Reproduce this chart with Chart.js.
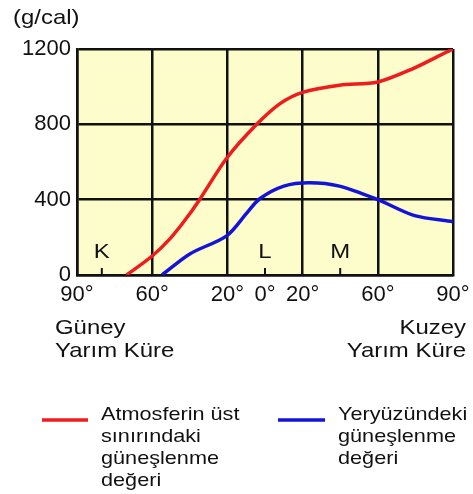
<!DOCTYPE html>
<html>
<head>
<meta charset="utf-8">
<script src="https://cdn.jsdelivr.net/npm/chart.js@4"></script>
<style>
  html, body { margin: 0; padding: 0; background: #fff; }
  #wrap { width: 473px; height: 494px; position: relative; }
</style>
</head>
<body>
<div id="wrap"><canvas id="myChart" width="473" height="494"></canvas></div>
<script>
// x positions are in grid cells (0 = 90° S, 5 = 90° N)
const tickPos = [0, 1, 2, 2.5, 3, 4, 5];
const tickLabels = ['90°', '60°', '20°', '0°', '20°', '60°', '90°'];
const markPos = [0.33, 2.5, 3.5];
const markLabels = ['K', 'L', 'M'];

const redX = [0.66, 1.0, 1.235, 1.43, 1.63, 1.99, 2.39, 2.7, 3.0, 3.49, 4.0, 4.49, 4.78, 5.0];
const redY = [0, 101, 192, 288, 400, 620, 800, 910, 970, 1008, 1025, 1100, 1157, 1200];
const blueX = [1.13, 1.5, 1.99, 2.26, 2.43, 2.75, 3.09, 3.49, 4.0, 4.49, 5.0];
const blueY = [0, 112, 208, 330, 405, 472, 490, 472, 400, 315, 283];

const FONT = "'Liberation Sans', Arial, sans-serif";

// text in the picture is a bit wider than Arial, so stretch it
function txt(ctx, t, x, y, size, align) {
  const sx = 1.14;
  ctx.save();
  ctx.font = size + 'px ' + FONT;
  ctx.textAlign = align;
  ctx.textBaseline = 'middle';
  ctx.translate(x, y);
  ctx.scale(sx, 1);
  ctx.fillText(t, 0, 0);
  ctx.restore();
}

const extras = {
  id: 'extras',
  beforeDraw(chart) {
    const {ctx, chartArea: a} = chart;
    ctx.save();
    ctx.fillStyle = '#fdfccb';
    ctx.fillRect(a.left, a.top, a.right - a.left, a.bottom - a.top);
    ctx.restore();
  },
  afterDraw(chart) {
    const {ctx, chartArea: a} = chart;
    const xs = chart.scales.x;
    ctx.save();
    ctx.fillStyle = '#111';
    ctx.strokeStyle = '#111';
    // K L M marks
    ctx.lineWidth = 2;
    markPos.forEach((p, i) => {
      const px = xs.getPixelForValue(p);
      ctx.beginPath();
      ctx.moveTo(px, a.bottom);
      ctx.lineTo(px, a.bottom - 7);
      ctx.stroke();
      txt(ctx, markLabels[i], px, a.bottom - 23, 21, 'center');
    });
    txt(ctx, '(g/cal)', 13, 18, 21, 'left');
    txt(ctx, 'Güney', 55, 328, 21, 'left');
    txt(ctx, 'Yarım Küre', 55, 351, 21, 'left');
    txt(ctx, 'Kuzey', 466, 328, 21, 'right');
    txt(ctx, 'Yarım Küre', 466, 351, 21, 'right');
    // legend
    ctx.lineWidth = 3.5;
    ctx.strokeStyle = '#ee1c1c';
    ctx.beginPath(); ctx.moveTo(42, 420); ctx.lineTo(88, 420); ctx.stroke();
    ctx.strokeStyle = '#1414d8';
    ctx.beginPath(); ctx.moveTo(278, 420); ctx.lineTo(325, 420); ctx.stroke();
    ['Atmosferin üst', 'sınırındaki', 'güneşlenme', 'değeri'].forEach((t, i) => {
      txt(ctx, t, 101, 415 + i * 22, 19, 'left');
    });
    ['Yeryüzündeki', 'güneşlenme', 'değeri'].forEach((t, i) => {
      txt(ctx, t, 338, 415 + i * 22, 19, 'left');
    });
    ctx.restore();
  }
};

window.onload = function() {
  const ctx = document.getElementById('myChart').getContext('2d');
  new Chart(ctx, {
    type: 'line',
    data: {
      datasets: [{
        label: 'Atmosferin üst sınırındaki güneşlenme değeri',
        data: redX.map((x, i) => ({x: x, y: redY[i]})),
        borderColor: '#ee1c1c',
        borderWidth: 3.5,
        pointRadius: 0,
        tension: 0.3
      }, {
        label: 'Yeryüzündeki güneşlenme değeri',
        data: blueX.map((x, i) => ({x: x, y: blueY[i]})),
        borderColor: '#1414d8',
        borderWidth: 3.5,
        pointRadius: 0,
        tension: 0.3
      }]
    },
    options: {
      responsive: false,
      animation: false,
      layout: { padding: { left: 7, top: 49, right: 20, bottom: 0 } },
      plugins: { legend: { display: false }, tooltip: { enabled: false } },
      scales: {
        x: {
          type: 'linear',
          min: 0,
          max: 5,
          afterBuildTicks: s => { s.ticks = tickPos.map(v => ({value: v})); },
          afterFit: s => { s.height = 219; s.paddingLeft = 0; s.paddingRight = 0; },
          ticks: {
            autoSkip: false,
            maxRotation: 0,
            padding: 7,
            color: '#111',
            font: { family: FONT, size: 22 },
            callback: (v, i) => tickLabels[i]
          },
          grid: {
            drawTicks: false,
            color: c => (c.tick && Number.isInteger(c.tick.value)) ? '#111' : 'rgba(0,0,0,0)',
            lineWidth: 2.5
          },
          border: { color: '#111', width: 2.5 }
        },
        y: {
          min: 0,
          max: 1200,
          afterFit: s => { s.width = 70; s.paddingTop = 0; s.paddingBottom = 0; },
          ticks: {
            stepSize: 400,
            padding: 6,
            color: '#111',
            font: { family: FONT, size: 22 },
            callback: v => String(v)
          },
          grid: { drawTicks: false, color: '#111', lineWidth: 2.5 },
          border: { color: '#111', width: 2.5 }
        }
      }
    },
    plugins: [extras]
  });
};
</script>
</body>
</html>
